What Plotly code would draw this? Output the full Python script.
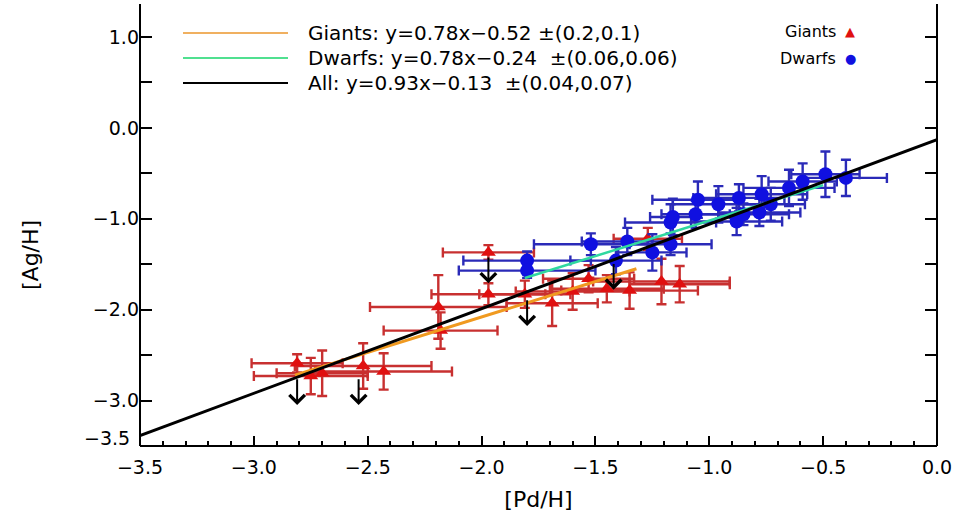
import plotly.graph_objects as go

# Giant stars: [Pd/H], [Ag/H] and their uncertainties
giant_pd = [-2.81, -2.75, -2.70, -2.52, -2.43, -2.19, -2.18, -1.97, -1.97, -1.81,
            -1.69, -1.60, -1.53, -1.45, -1.35, -1.21, -1.13, -1.27]
giant_ag = [-2.59, -2.73, -2.70, -2.62, -2.68, -1.97, -2.23, -1.37, -1.83, -1.83,
            -1.93, -1.80, -1.66, -1.77, -1.79, -1.69, -1.72, -1.22]
giant_pd_err = [0.20, 0.25, 0.20, 0.30, 0.30, 0.30, 0.25, 0.20, 0.25, 0.20,
                0.20, 0.25, 0.20, 0.25, 0.30, 0.30, 0.22, 0.15]
giant_ag_err = [0.10, 0.20, 0.25, 0.25, 0.20, 0.35, 0.20, 0.08, 0.12, 0.15,
                0.25, 0.20, 0.15, 0.15, 0.20, 0.25, 0.20, 0.12]

# Dwarf stars
dwarf_pd = [-1.80, -1.80, -1.52, -1.41, -1.36, -1.25, -1.17, -1.17, -1.16, -1.05, -1.06,
            -0.87, -0.77, -0.78, -0.73, -0.88, -0.59, -0.49, -0.40, -0.85, -0.65, -0.96]
dwarf_ag = [-1.46, -1.57, -1.28, -1.46, -1.25, -1.37, -1.28, -1.04, -0.98, -0.79, -0.95,
            -0.77, -0.73, -0.93, -0.84, -1.03, -0.59, -0.51, -0.55, -0.95, -0.66, -0.84]
dwarf_pd_err = [0.28, 0.30, 0.25, 0.20, 0.20, 0.15, 0.18, 0.20, 0.10, 0.20, 0.15,
                0.20, 0.20, 0.18, 0.15, 0.20, 0.15, 0.15, 0.18, 0.20, 0.20, 0.20]
dwarf_ag_err = [0.10, 0.08, 0.12, 0.15, 0.15, 0.20, 0.12, 0.20, 0.20, 0.20, 0.15,
                0.15, 0.20, 0.15, 0.18, 0.15, 0.20, 0.25, 0.20, 0.12, 0.20, 0.20]

# Upper limits on [Ag/H]
limit_pd = [-2.81, -2.54, -1.97, -1.80, -1.42]
limit_ag = [-2.75, -2.75, -1.41, -1.88, -1.48]
limit_len = 0.3

# Linear fits: slope, intercept, x-span
fit_giants = (0.78, -0.52, [-2.82, -1.32])
fit_dwarfs = (0.78, -0.24, [-1.81, -0.50])
fit_all = (0.93, -0.13, [-3.5, 0.0])

legend_lines = [
    ("Giants: y=0.78x\u22120.52 \u00b1(0.2,0.1)", "#f0b060"),
    ("Dwarfs: y=0.78x\u22120.24  \u00b1(0.06,0.06)", "#50e090"),
    ("All: y=0.93x\u22120.13  \u00b1(0.04,0.07)", "black"),
]

y_tick_vals = [1.0, 0.5, 0.0, -0.5, -1.0, -1.5, -2.0, -2.5, -3.0, -3.5]
y_tick_text = ["1.0", "", "0.0", "", "\u22121.0", "", "\u22122.0", "", "\u22123.0", ""]
y_bottom_label = "\u22123.5"

RED = "#e01010"
RED_BAR = "#c83030"
BLUE = "#1010e0"
BLUE_BAR = "#2a2ab8"
FONT = "DejaVu Sans"

# plot box in pixels
L, R, T, B = 140, 26, 4, 72
PW, PH = 963 - L - R, 518 - T - B
Y_TOP = 1.0 + (37 - T) / 90.8


def px_x(p):
    return (p - L) / PW


def px_y(p):
    return 1 - (p - T) / PH


fig = go.Figure()

fig.add_trace(go.Scatter(
    x=giant_pd, y=giant_ag, mode="markers",
    marker=dict(symbol="triangle-up", size=13, color=RED),
    error_x=dict(type="data", array=giant_pd_err, color=RED_BAR, thickness=2.4, width=5),
    error_y=dict(type="data", array=giant_ag_err, color=RED_BAR, thickness=2.4, width=5),
    showlegend=False,
))
fig.add_trace(go.Scatter(
    x=dwarf_pd, y=dwarf_ag, mode="markers",
    marker=dict(symbol="circle", size=14, color=BLUE),
    error_x=dict(type="data", array=dwarf_pd_err, color=BLUE_BAR, thickness=2.4, width=5),
    error_y=dict(type="data", array=dwarf_ag_err, color=BLUE_BAR, thickness=2.4, width=5),
    showlegend=False,
))


def fit_trace(fit, color, width):
    m, b, span = fit
    return go.Scatter(x=span, y=[m * v + b for v in span], mode="lines",
                      line=dict(color=color, width=width), showlegend=False)


fig.add_trace(fit_trace(fit_giants, "#f09a20", 3))
fig.add_trace(fit_trace(fit_dwarfs, "#30d8a0", 2.5))
fig.add_trace(fit_trace(fit_all, "black", 3))

annotations = []
# Upper-limit arrows pointing down
for px, py in zip(limit_pd, limit_ag):
    annotations.append(dict(
        x=px, y=py - limit_len, ax=px, ay=py, xref="x", yref="y",
        axref="x", ayref="y", text="", showarrow=True, arrowhead=4,
        arrowsize=1.5, arrowwidth=2, arrowcolor="black", standoff=0,
    ))

# Bottom y tick label sits slightly raised above the corner
annotations.append(dict(x=0, y=-3.5, xref="paper", yref="y", text=y_bottom_label,
                        showarrow=False, xanchor="right", yanchor="middle",
                        xshift=-8, yshift=8, font=dict(family=FONT, size=19, color="black")))

# y-axis title
annotations.append(dict(x=px_x(30), y=px_y(255), xref="paper", yref="paper",
                        text="[Ag/H]", textangle=-90, showarrow=False,
                        xanchor="center", yanchor="middle",
                        font=dict(family=FONT, size=22, color="black")))

shapes = []
# Fit legend (upper left)
for i, (label, color) in enumerate(legend_lines):
    yp = px_y(33 + 25 * i)
    shapes.append(dict(type="line", xref="paper", yref="paper",
                       x0=px_x(183), x1=px_x(288), y0=yp, y1=yp,
                       line=dict(color=color, width=2)))
    annotations.append(dict(x=px_x(306), y=yp, xref="paper", yref="paper",
                            text=label, showarrow=False, xanchor="left", yanchor="middle",
                            font=dict(family=FONT, size=20, color="black")))

# Sample legend (upper right)
for i, (label, sym, color) in enumerate([("Giants", "\u25b2", RED), ("Dwarfs", "\u25cf", BLUE)]):
    yp = px_y(31 + 27 * i)
    annotations.append(dict(x=px_x(838), y=yp, xref="paper", yref="paper",
                            text=label, showarrow=False, xanchor="right", yanchor="middle",
                            font=dict(family=FONT, size=16, color="black")))
    annotations.append(dict(x=px_x(850), y=yp, xref="paper", yref="paper",
                            text=sym, showarrow=False, xanchor="center", yanchor="middle",
                            font=dict(family=FONT, size=13, color=color)))

# Box lines: bottom, left and right only
for x0, y0, x1, y1 in [(0, 0, 1, 0), (0, 0, 0, 1), (1, 0, 1, 1)]:
    shapes.append(dict(type="line", xref="paper", yref="paper", x0=x0, y0=y0, x1=x1, y1=y1,
                       line=dict(color="black", width=2), layer="above"))

fig.update_layout(
    width=963, height=518,
    margin=dict(l=L, r=R, t=T, b=B),
    paper_bgcolor="white", plot_bgcolor="white",
    font=dict(family=FONT, size=19, color="black"),
    annotations=annotations, shapes=shapes,
    showlegend=False,
)
fig.update_xaxes(
    range=[-3.5, 0.0], dtick=0.5, tick0=-3.5, tickformat=".1f",
    ticks="inside", ticklen=10, tickwidth=1.5, tickcolor="black",
    ticklabelstandoff=8,
    minor=dict(dtick=0.1, ticks="inside", ticklen=5, tickcolor="black", tickwidth=1.5),
    showline=False, mirror=False,
    showgrid=False, zeroline=False,
    title=dict(text="[Pd/H]", font=dict(family=FONT, size=22), standoff=14),
)
fig.update_yaxes(
    range=[-3.5, Y_TOP], tickmode="array", tickvals=y_tick_vals, ticktext=y_tick_text,
    ticks="inside", ticklen=12, tickwidth=1.5, tickcolor="black",
    showline=False, mirror="allticks",
    showgrid=False, zeroline=False,
)

fig.write_html("out.html")
